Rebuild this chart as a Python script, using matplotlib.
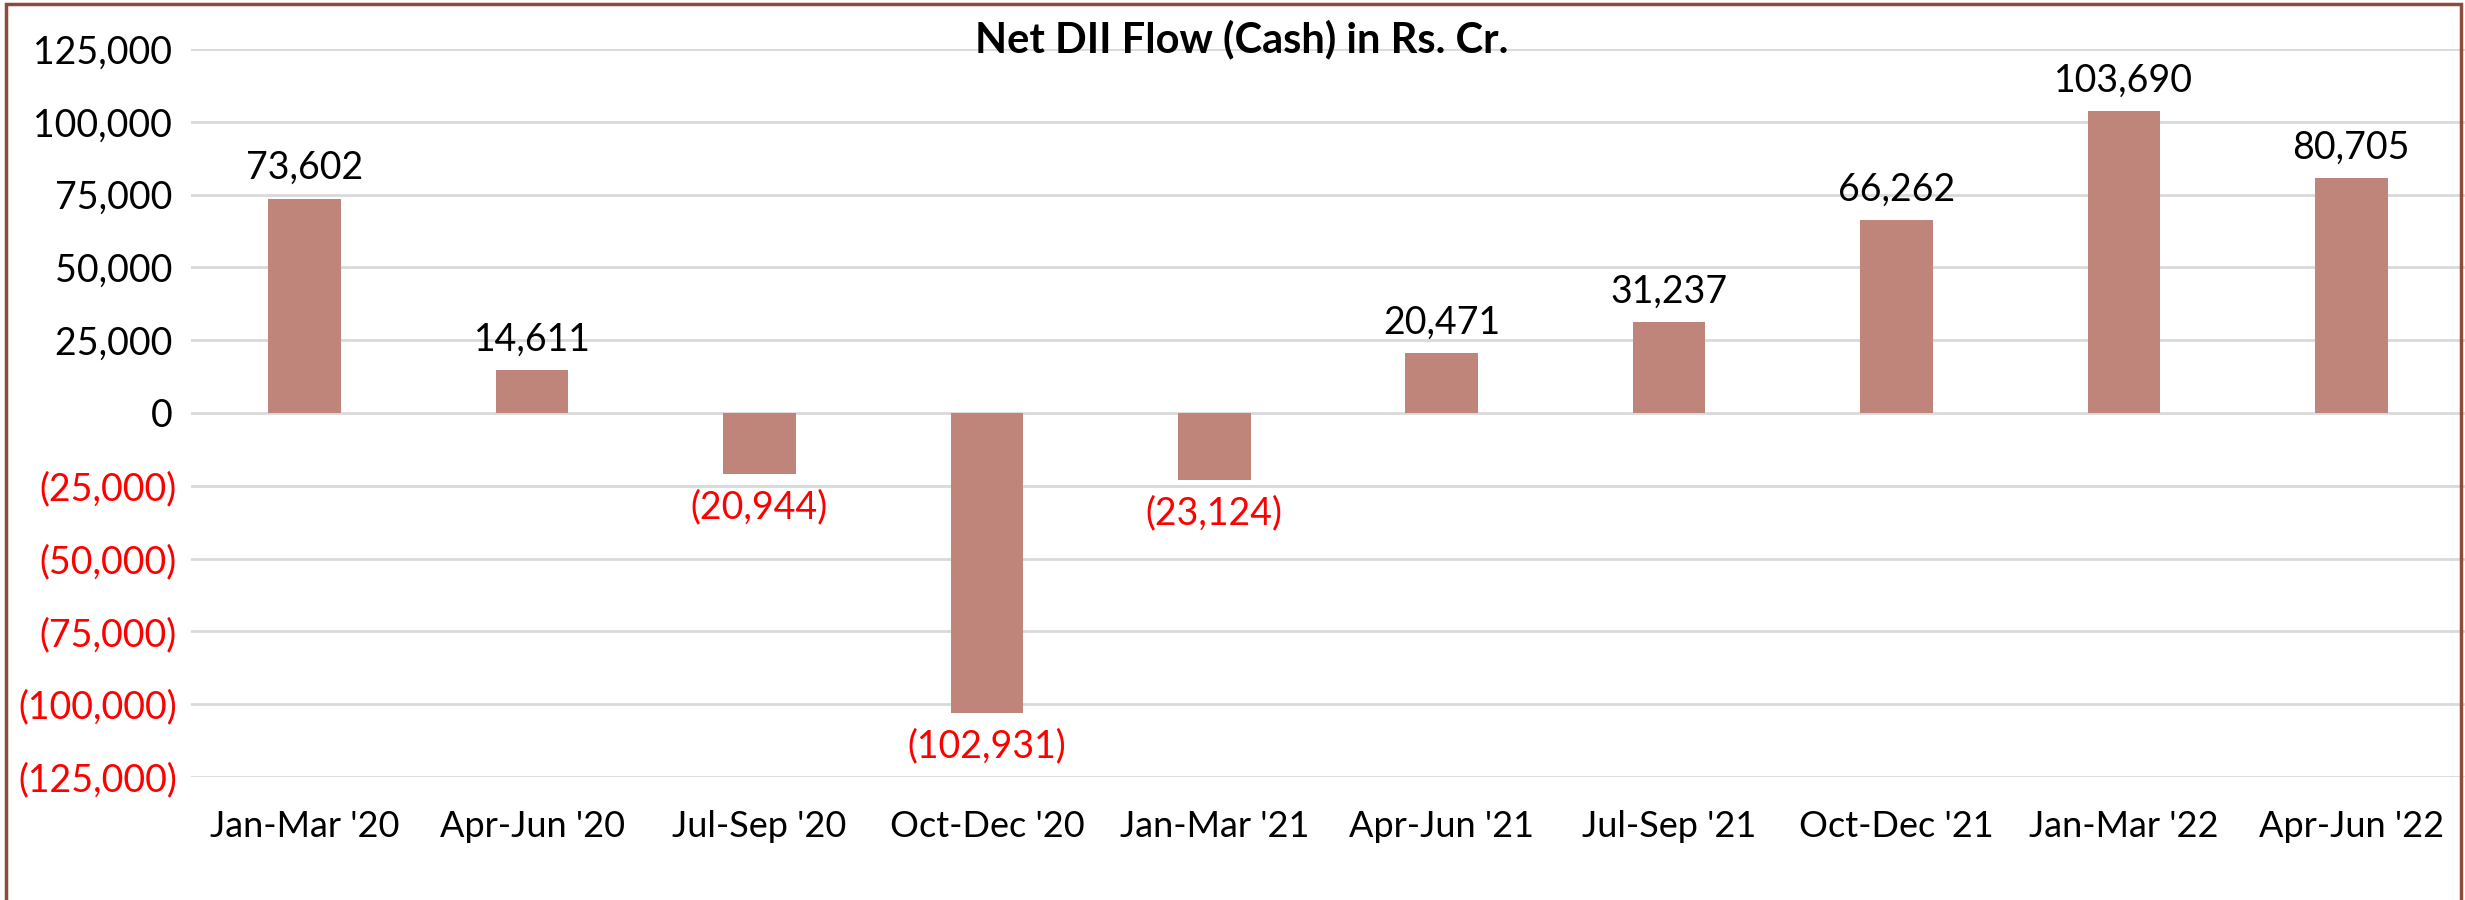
import numpy as np
import matplotlib
matplotlib.use('Agg')
import matplotlib.pyplot as plt
from matplotlib.patches import Rectangle

quarters = ["Jan-Mar '20", "Apr-Jun '20", "Jul-Sep '20", "Oct-Dec '20", "Jan-Mar '21",
            "Apr-Jun '21", "Jul-Sep '21", "Oct-Dec '21", "Jan-Mar '22", "Apr-Jun '22"]
net_dii = [73602, 14611, -20944, -102931, -23124, 20471, 31237, 66262, 103690, 80705]
yticks = [125000, 100000, 75000, 50000, 25000, 0, -25000, -50000, -75000, -100000, -125000]

plt.rcParams['font.family'] = ['Lato', 'DejaVu Sans']

bar_color = '#C0857A'
grid_color = '#D9D9D9'
red = '#FF0000'

def fmt(v):
    if v < 0:
        return '({:,})'.format(-v)
    return '{:,}'.format(v)

fig = plt.figure(figsize=(24.65, 9), dpi=100)
ax = fig.add_axes([191/2465, 1 - 777/900, 1 - 191/2465, (777 - 49)/900])

x = np.arange(len(quarters))
ax.bar(x, net_dii, width=0.32, color=bar_color, zorder=3)

ax.set_xlim(-0.5, len(quarters) - 0.5)
ax.set_ylim(-125000, 125000)
ax.set_yticks(yticks)
ax.set_yticklabels([fmt(v) + ('\u2009' if v >= 0 else '') for v in yticks], fontsize=27)
for lbl, v in zip(ax.get_yticklabels(), yticks):
    if v < 0:
        lbl.set_color(red)
ax.set_xticks(x)
ax.set_xticklabels(quarters, fontsize=26)
ax.tick_params(axis='y', length=0, pad=10)
ax.tick_params(axis='x', length=0, pad=24)

for yv in yticks:
    ax.axhline(yv, color=grid_color, lw=2, zorder=1)
for s in ax.spines.values():
    s.set_visible(False)

for xi, v in zip(x, net_dii):
    if v >= 0:
        ax.annotate(fmt(v), (xi, v), xytext=(0, 9), textcoords='offset points',
                    ha='center', va='bottom', fontsize=27, color='black')
    else:
        ax.annotate(fmt(v), (xi, v), xytext=(0, -11), textcoords='offset points',
                    ha='center', va='top', fontsize=27, color=red)

fig.text(1242/2465, 1 - 39/900, 'Net DII Flow (Cash) in Rs. Cr.', ha='center', va='center',
         fontsize=30, fontweight='bold')

fig.patches.append(Rectangle((6/2465, -0.05), (2461 - 6)/2465, 1.05 - 4/900,
                             transform=fig.transFigure, fill=False,
                             edgecolor='#8B4B3D', lw=2.5, clip_on=False))

fig.savefig('out.png', dpi=100, facecolor='white')
